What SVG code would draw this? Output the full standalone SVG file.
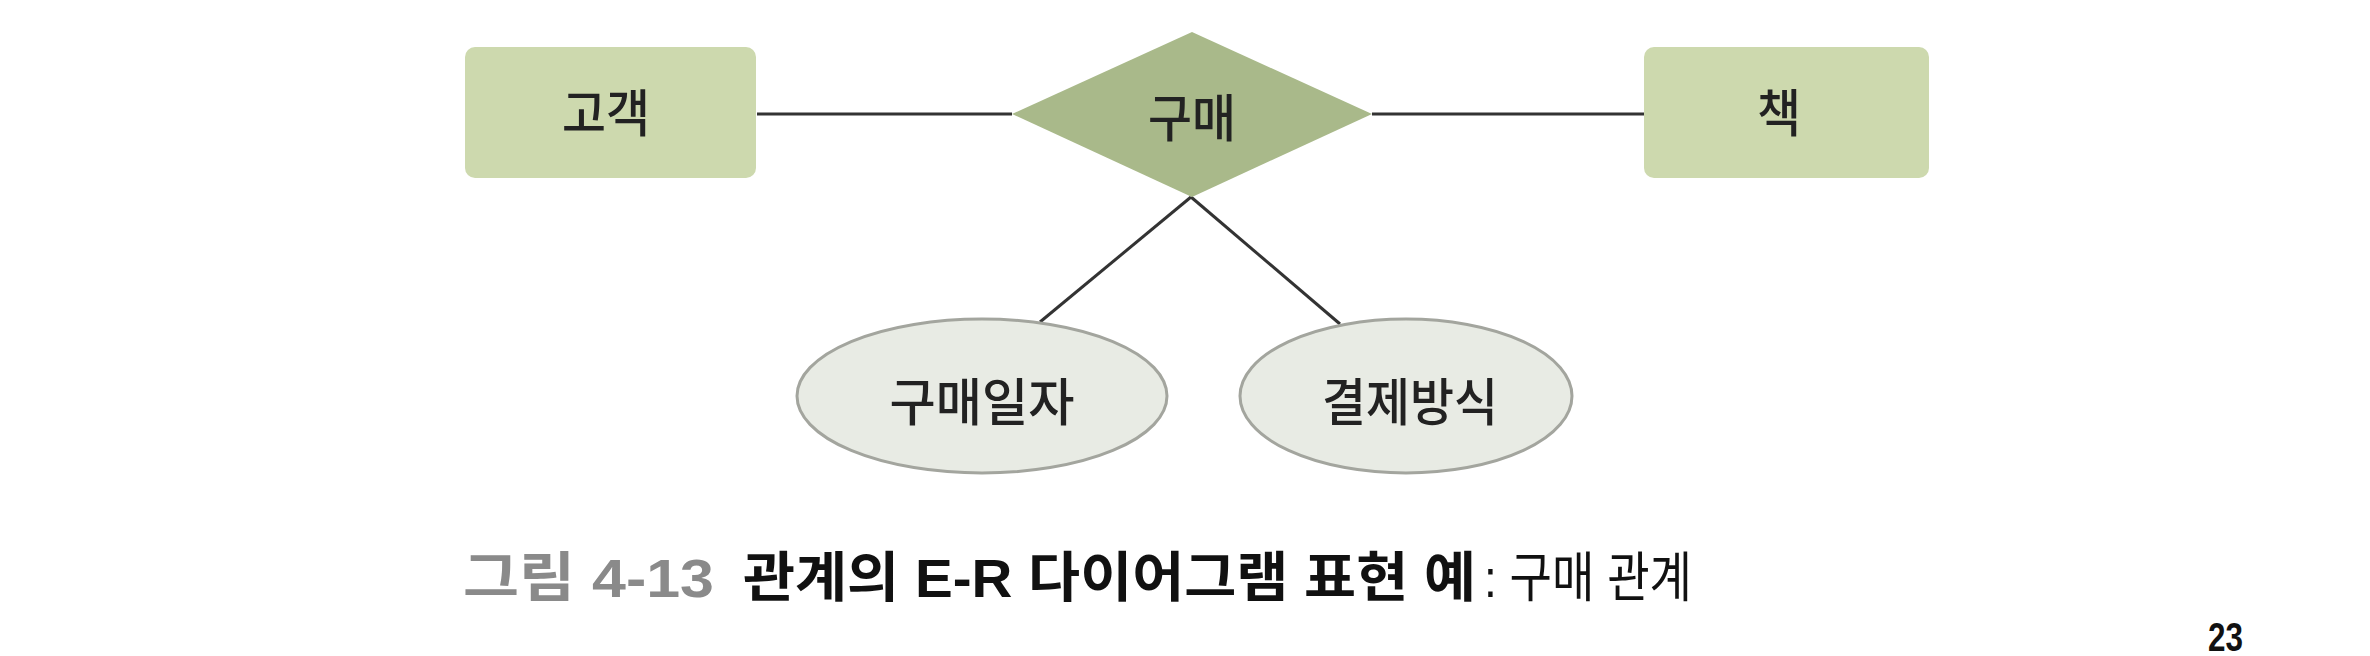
<svg xmlns="http://www.w3.org/2000/svg" width="2370" height="656" viewBox="0 0 2370 656">
<style>
.ent{fill:#cdd9ae;}
.rel{fill:#a9b98a;}
.att{fill:#e8ebe4;stroke:#a3a59e;stroke-width:3;}
.lbl{font-family:"Noto Sans CJK KR","Noto Sans",sans-serif;font-size:51px;font-weight:500;fill:#222;text-anchor:middle;dominant-baseline:central;}
.conn line{stroke:#333;stroke-width:3;}
.cap{font-family:"Liberation Sans","Noto Sans CJK KR",sans-serif;font-size:54px;font-weight:bold;}
</style>
<rect width="2370" height="656" fill="#ffffff"/>
<g id="connectors" class="conn">
<line x1="757" y1="114" x2="1012" y2="114"/>
<line x1="1372" y1="114" x2="1644" y2="114"/>
<line x1="1191" y1="197" x2="1040" y2="322"/>
<line x1="1191" y1="197" x2="1340" y2="324"/>
</g>
<g id="customer">
<rect class="ent" x="465" y="47" width="291" height="131" rx="10"/>
<text class="lbl" x="606" y="110" textLength="88" lengthAdjust="spacingAndGlyphs">고객</text>
</g>
<g id="book">
<rect class="ent" x="1644" y="47" width="285" height="131" rx="10"/>
<text class="lbl" x="1779" y="110" textLength="44" lengthAdjust="spacingAndGlyphs">책</text>
</g>
<g id="purchase">
<polygon class="rel" points="1192,32 1372,114 1192,197 1012,114"/>
<text class="lbl" x="1192" y="115" textLength="88" lengthAdjust="spacingAndGlyphs">구매</text>
</g>
<g id="purchase-date">
<ellipse class="att" cx="982" cy="396" rx="185" ry="77"/>
<text class="lbl" x="982" y="399" textLength="185" lengthAdjust="spacingAndGlyphs">구매일자</text>
</g>
<g id="payment-method">
<ellipse class="att" cx="1406" cy="396" rx="166" ry="77"/>
<text class="lbl" x="1410" y="399" textLength="176" lengthAdjust="spacingAndGlyphs">결제방식</text>
</g>
<g id="caption">
<text class="cap" x="463" y="597" fill="#8a8a8a" textLength="251" lengthAdjust="spacingAndGlyphs">그림 4-13</text>
<text class="cap" x="743" y="597" fill="#111" textLength="733" lengthAdjust="spacingAndGlyphs">관계의 E-R 다이어그램 표현 예</text>
<text class="cap" x="1484" y="597" fill="#111" style="font-weight:normal" textLength="208" lengthAdjust="spacingAndGlyphs">: 구매 관계</text>
</g>
<text x="2208" y="651" font-family="Liberation Sans, sans-serif" font-size="40" font-weight="bold" fill="#111" textLength="35" lengthAdjust="spacingAndGlyphs">23</text>
</svg>
